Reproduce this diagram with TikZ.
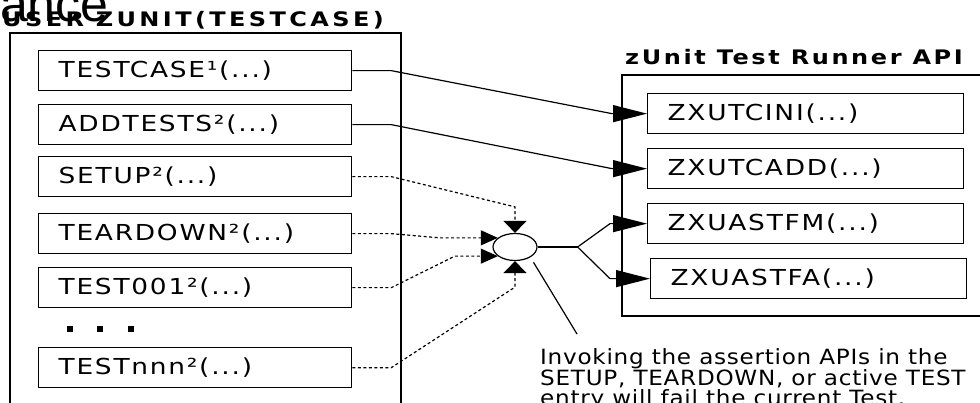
\documentclass[tikz,border=0pt]{standalone}
\usepackage{fontspec}
\setmainfont{DejaVu Sans}
\newfontfamily\boxfont{DejaVu Sans}[FakeStretch=1.2,LetterSpace=8]
\newfontfamily\notefont{DejaVu Sans}[FakeStretch=1.1,LetterSpace=3.5]
\newfontfamily\headfont{DejaVu Sans}[FakeStretch=1.2]
\newfontfamily\bigfont{Liberation Sans}
\usetikzlibrary{arrows.meta,shapes.geometric}

\begin{document}
\begin{tikzpicture}[x=1pt, y=-1pt,
    frame/.style={draw, line width=1.6pt},
    callbox/.style={draw, line width=1.3pt, anchor=north west, minimum height=40pt,
      inner xsep=20pt, inner ysep=0pt, text width=#1, align=left,
      font=\boxfont\fontsize{22}{24}\selectfont},
    grouptitle/.style={anchor=base west, inner sep=0pt,
      font=\headfont\bfseries\fontsize{20}{22}\selectfont\addfontfeatures{LetterSpace=#1}},
    grouptitle/.default=13,
    apiarrow/.style={line width=1.2pt, -{Triangle[length=34pt,width=17pt]}},
    hookline/.style={line width=1.2pt, dash pattern=on 3pt off 2.5pt},
    sidetip/.style={-{Triangle[length=17pt,width=15pt]}},
    toptip/.style={-{Triangle[length=12pt,width=23pt]}}]
  \useasboundingbox (0,0) rectangle (980,403);
  \clip (0,0) rectangle (980,403);

  \node[anchor=base west, inner sep=0pt, font=\bigfont\fontsize{50}{50}\selectfont] (stray) at (0,22) {ance};
  \node[grouptitle=17] (usertitle) at (2,27) {USER ZUNIT(TESTCASE)};
  \node[grouptitle] (apititle) at (625,65) {zUnit Test Runner API};

  % the two programs
  \draw[frame] (10,33) rectangle (401,420);
  \draw[frame] (622,75) rectangle (995,316);

  % user entries
  \node[callbox=273pt] (tc) at (38,50) {TESTCASE¹(...)};
  \node[callbox=273pt] (adt) at (38,104) {ADDTESTS²(...)};
  \node[callbox=273pt] (su) at (38,156) {SETUP²(...)};
  \node[callbox=273pt] (td) at (38,213) {TEARDOWN²(...)};
  \node[callbox=273pt] (t1) at (38,267) {TEST001²(...)};
  \node[callbox=273pt] (tn) at (38,347) {TESTnnn²(...)};
  \foreach \dx in {70,100,131}
    \fill (\dx-3,326) rectangle +(6,6);

  % runner API
  \node[callbox=276pt] (ini) at (647,93) {ZXUTCINI(...)};
  \node[callbox=276pt] (add) at (647,148) {ZXUTCADD(...)};
  \node[callbox=276pt] (fm) at (647,203) {ZXUASTFM(...)};
  \node[callbox=276pt] (fa) at (650,258) {ZXUASTFA(...)};

  \node[draw, ellipse, line width=1.2pt, minimum width=44pt, minimum height=27pt, inner sep=0pt] (hub) at (515,247) {};

  \draw[apiarrow] (tc.east) -- ++(39,0) -- ([xshift=-35pt]ini.west) -- (ini.west);
  \draw[apiarrow] (adt.east) -- ++(39,0) -- ([xshift=-35pt]add.west) -- (add.west);

  \draw[hookline, toptip] (su.east) -- ++(39,0) -- ([yshift=26pt]hub.north) -- (hub.north);
  \draw[hookline, sidetip] (td.east) -- ++(39,0) -- ([xshift=-58pt]hub.152) -- (hub.152);
  \draw[hookline, sidetip] (t1.east) -- ++(39,0) -- ([xshift=-43pt]hub.208) -- (hub.208);
  \draw[hookline, toptip] (tn.east) -- ++(39,0) -- ([yshift=-26pt]hub.south) -- (hub.south);

  \draw[line width=1.2pt] (hub.east) -- ++(40,0) coordinate (fork);
  \draw[apiarrow] (fork) -- ([xshift=-37pt]fm.west) -- (fm.west);
  \draw[apiarrow] (fork) -- ([xshift=-40pt]fa.west) -- (fa.west);

  % note on the assertions
  \node[anchor=north west, inner sep=0pt, align=left, font=\notefont\fontsize{21}{20}\selectfont] (note) at (540,348)
    {Invoking the assertion APIs in the\\SETUP, TEARDOWN, or active TEST\\entry will fail the current Test.};
  \draw[line width=1.2pt] ([shift={(5,4)}]hub.-40) -- ([xshift=37pt,yshift=14pt]note.north west);
\end{tikzpicture}
\end{document}
